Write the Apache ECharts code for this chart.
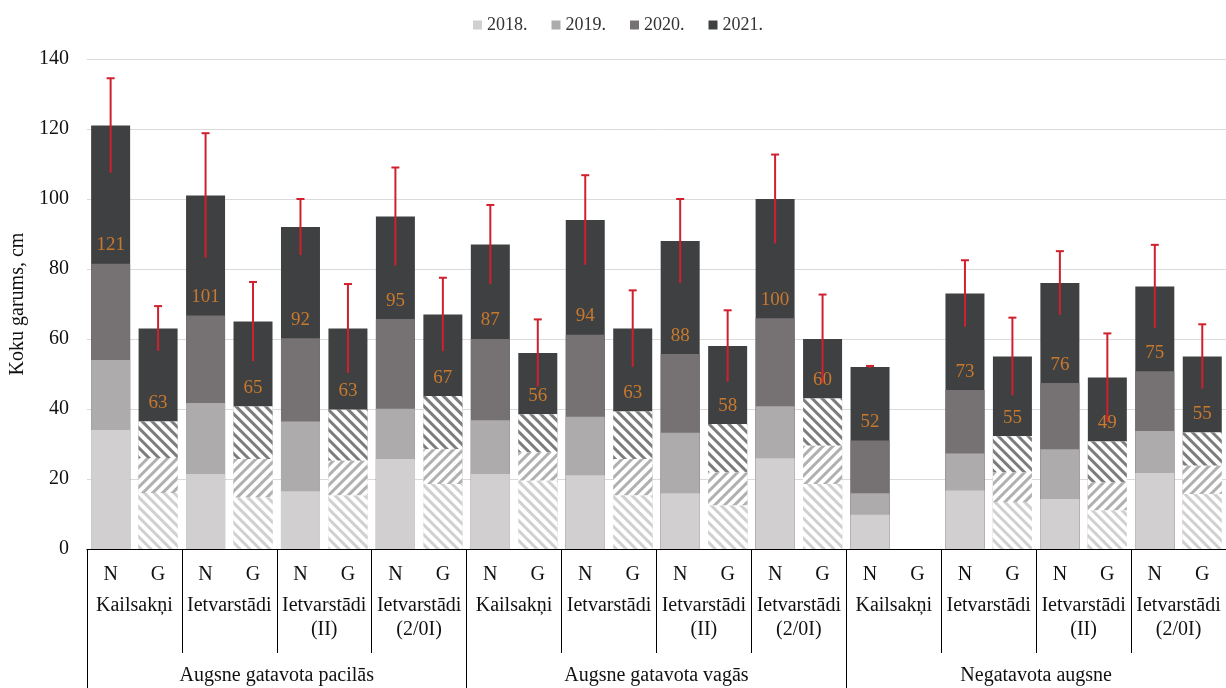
<!DOCTYPE html>
<html>
<head>
<meta charset="utf-8">
<script src="https://cdn.jsdelivr.net/npm/echarts@6/dist/echarts.min.js"></script>
<style>
  html, body { margin: 0; padding: 0; background: #fff; }
  #chart { width: 1226px; height: 688px; }
</style>
</head>
<body>
<div id="chart"></div>
<script>
// kategorijas (N / G) un grupas
const categories = ['N','G','N','G','N','G','N','G','N','G','N','G','N','G','N','G','N','G','N','G','N','G','N','G']
const subgroups = ['Kailsakņi', 'Ietvarstādi', 'Ietvarstādi\n(II)', 'Ietvarstādi\n(2/0I)',
  'Kailsakņi', 'Ietvarstādi', 'Ietvarstādi\n(II)', 'Ietvarstādi\n(2/0I)',
  'Kailsakņi', 'Ietvarstādi', 'Ietvarstādi\n(II)', 'Ietvarstādi\n(2/0I)']
const groups = ['Augsne gatavota pacilās', 'Augsne gatavota vagās', 'Negatavota augsne']

// koku garums pa gadiem, cm
const h2018 = [34, 16, 21.4, 14.8, 16.5, 15.3, 25.7, 18.6, 21.4, 19.5, 21.1, 15.3, 15.9, 12.4, 25.9, 18.6, 9.8, '-', 16.7, 13.4, 14.3, 11, 21.7, 15.7]
const h2019 = [54, 26, 41.7, 25.7, 36.4, 25.2, 40.1, 28.5, 36.8, 27.6, 37.8, 25.7, 33.2, 21.9, 40.8, 29.5, 15.9, '-', 27.3, 21.9, 28.5, 19, 33.7, 23.8]
const h2020 = [81.5, 36.4, 66.7, 40.7, 60.2, 39.8, 65.7, 43.7, 60, 38.5, 61.2, 39.3, 55.7, 35.7, 65.9, 43, 31, '-', 45.4, 32.2, 47.4, 30.7, 50.8, 33.3]
const h2021 = [121, 63, 101, 65, 92, 63, 95, 67, 87, 56, 94, 63, 88, 58, 100, 60, 52, '-', 73, 55, 76, 49, 75, 55]
// standartnovirze
const err2021 = [13.5, 6.4, 17.8, 11.3, 8, 12.7, 14, 10.5, 11.3, 9.6, 12.8, 10.9, 12, 10.2, 12.7, 12.7, 0.3, '-', 9.5, 11.1, 9.1, 12.6, 11.9, 9.2]

const yTicks = { min: 0, max: 140, interval: 20 }

const serif = 'Liberation Serif'
const colors = { y2018: '#d1cfd0', y2019: '#adabac', y2020: '#767273', y2021: '#3f4041' }
const hatchColors = { y2018: '#d0d0d0', y2019: '#b0b0b0', y2020: '#7c7c7c' }

// G stabiņiem - svītrots raksts
function hatch(color, dir) {
  return {
    symbol: 'rect',
    symbolSize: 1,
    dashArrayX: [1, 0],
    dashArrayY: [3, 4],
    rotation: dir * Math.PI / 4,
    color: color,
    backgroundColor: '#fff',
  }
}
function withHatch(arr, color, dir) {
  return arr.map((v, i) => {
    if (i % 2 === 1 && v !== '-') {
      return { value: v, itemStyle: { color: '#fff', decal: hatch(color, dir) } }
    }
    return v
  })
}

const errData = []
h2021.forEach((v, i) => {
  if (v !== '-') errData.push([i, v, err2021[i]])
})

const chart = echarts.init(document.getElementById('chart'))
chart.setOption({
  animation: false,
  legend: {
    data: ['2018.', '2019.', '2020.', '2021.'],
    top: 11,
    left: 468,
    icon: 'rect',
    itemWidth: 9,
    itemHeight: 9,
    itemGap: 24,
    textStyle: { fontFamily: serif, fontSize: 18, color: '#333' },
  },
  grid: { left: 86, top: 59, width: 1152, bottom: 136 },
  xAxis: [
    {
      type: 'category',
      data: categories,
      position: 'bottom',
      axisLine: { lineStyle: { color: '#000', width: 1 } },
      axisTick: { show: false },
      axisLabel: { interval: 0, margin: 16, fontFamily: serif, fontSize: 20, lineHeight: 20, color: '#111' },
    },
    {
      type: 'category',
      data: subgroups,
      position: 'bottom',
      axisLine: { show: false },
      axisTick: { show: true, interval: 0, length: 104, lineStyle: { color: '#000', width: 1 } },
      axisLabel: { interval: 0, margin: 45, fontFamily: serif, fontSize: 20, lineHeight: 24, color: '#111' },
    },
    {
      type: 'category',
      data: groups,
      position: 'bottom',
      axisLine: { show: false },
      axisTick: { show: true, interval: 0, length: 140, lineStyle: { color: '#000', width: 1 } },
      axisLabel: { interval: 0, margin: 115, fontFamily: serif, fontSize: 20, lineHeight: 24, color: '#111' },
    },
  ],
  yAxis: {
    type: 'value',
    min: yTicks.min,
    max: yTicks.max,
    interval: yTicks.interval,
    name: 'Koku garums, cm',
    nameLocation: 'middle',
    nameGap: 58,
    nameTextStyle: { fontFamily: serif, fontSize: 20, color: '#111' },
    axisLine: { show: false },
    axisTick: { show: false },
    axisLabel: { margin: 18, fontFamily: serif, fontSize: 20, color: '#111' },
    splitLine: { lineStyle: { color: '#dadada', width: 1 } },
  },
  series: [
    {
      name: '2021.',
      type: 'bar',
      barWidth: 39,
      barGap: '-100%',
      itemStyle: { color: colors.y2021 },
      data: h2021,
    },
    {
      name: '2020.',
      type: 'bar',
      barWidth: 39,
      barGap: '-100%',
      itemStyle: { color: colors.y2020 },
      label: {
        show: true,
        position: 'top',
        distance: 9,
        fontFamily: serif,
        fontSize: 19,
        color: '#c8792e',
        formatter: p => h2021[p.dataIndex],
      },
      data: withHatch(h2020, hatchColors.y2020, 1),
    },
    {
      name: '2019.',
      type: 'bar',
      barWidth: 39,
      barGap: '-100%',
      itemStyle: { color: colors.y2019 },
      data: withHatch(h2019, hatchColors.y2019, -1),
    },
    {
      name: '2018.',
      type: 'bar',
      barWidth: 39,
      barGap: '-100%',
      itemStyle: { color: colors.y2018 },
      data: withHatch(h2018, hatchColors.y2018, 1),
    },
    {
      name: 'err',
      type: 'custom',
      z: 10,
      encode: { x: 0, y: 1 },
      renderItem: (params, api) => {
        const x = api.value(0)
        const v = api.value(1)
        const e = api.value(2)
        const top = api.coord([x, v + e])
        const bot = api.coord([x, v - e])
        const red = '#d0202e'
        return {
          type: 'group',
          children: [
            { type: 'line', shape: { x1: top[0], y1: top[1], x2: bot[0], y2: bot[1] }, style: { stroke: red, lineWidth: 2 } },
            { type: 'line', shape: { x1: top[0] - 4, y1: top[1], x2: top[0] + 4, y2: top[1] }, style: { stroke: red, lineWidth: 2 } },
          ],
        }
      },
      data: errData,
    },
  ],
})
</script>
</body>
</html>
